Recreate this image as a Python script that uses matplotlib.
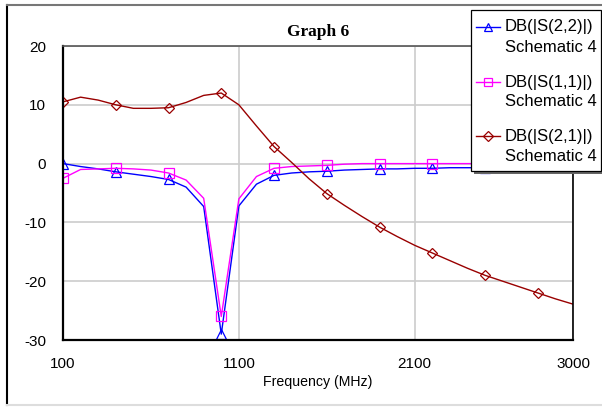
import matplotlib
matplotlib.use("Agg")
from matplotlib import pyplot as plt
from matplotlib.lines import Line2D
from matplotlib.patches import Rectangle

freq = [100, 200, 300, 400, 500, 600, 700, 800, 900, 1000,
        1100, 1200, 1300, 1400, 1500, 1600, 1700, 1800, 1900, 2000,
        2100, 2200, 2300, 2400, 2500, 2600, 2700, 2800, 2900, 3000]

s22 = [0.0, -0.5, -0.9, -1.4, -1.8, -2.2, -2.7, -4.0, -7.3, -29.0,
       -7.2, -3.5, -2.0, -1.6, -1.4, -1.3, -1.1, -1.0, -0.9, -0.9,
       -0.8, -0.8, -0.7, -0.7, -0.7, -0.6, -0.6, -0.6, -0.5, -0.5]

s11 = [-2.5, -1.0, -0.9, -0.8, -0.9, -1.1, -1.6, -2.8, -5.9, -26.0,
       -6.0, -2.2, -0.8, -0.5, -0.4, -0.3, -0.1, 0.0, 0.0, 0.0,
       0.0, 0.0, 0.0, 0.0, 0.0, 0.0, 0.0, 0.0, 0.0, 0.0]

s21 = [10.5, 11.3, 10.8, 10.0, 9.4, 9.4, 9.5, 10.4, 11.6, 12.0,
       10.0, 6.4, 2.9, 0.2, -2.6, -5.1, -7.1, -9.0, -10.8, -12.4,
       -13.9, -15.2, -16.5, -17.8, -19.0, -20.0, -21.0, -22.0, -23.0, -23.9]

names = ["DB(|S(2,2)|)", "DB(|S(1,1)|)", "DB(|S(2,1)|)"]
source = "Schematic 4"

xticks = [100, 1100, 2100, 3000]
yticks = [-30, -20, -10, 0, 10, 20]

plt.rcParams['font.family'] = ['Liberation Sans', 'DejaVu Sans']
plt.rcParams['axes.unicode_minus'] = False

W, H = 602, 407
fig = plt.figure(figsize=(W / 100, H / 100), dpi=100)
ax = fig.add_axes([63 / W, 1 - 340 / H, 510 / W, 294 / H])

styles = [dict(color='#0000ff', marker='^', ms=7.5),
          dict(color='#ff00ff', marker='s', ms=7.5),
          dict(color='#990000', marker='D', ms=5.5)]

for ys, st in zip([s22, s11, s21], styles):
    ax.plot(freq, ys, color=st['color'], lw=1.0, marker=st['marker'],
            markevery=3, ms=st['ms'], mfc='none', mec=st['color'], mew=0.9)

ax.set_xlim(100, 3000)
ax.set_ylim(-30, 20)
ax.set_xticks(xticks)
ax.set_yticks(yticks)
ax.tick_params(length=0, labelsize=11)
ax.tick_params(axis='x', pad=12)
ax.tick_params(axis='y', pad=12)
ax.grid(True, color='#cccccc', lw=1.2)
ax.set_axisbelow(True)

for side in ['left', 'bottom']:
    ax.spines[side].set_linewidth(1.6)
    ax.spines[side].set_color('black')
ax.spines['right'].set_linewidth(1.2)
ax.spines['top'].set_linewidth(1.2)
ax.spines['top'].set_color('#555555')

ax.set_title('Graph 6', fontsize=12.5, fontweight='bold',
             family='Liberation Serif', pad=7)
ax.set_xlabel('Frequency (MHz)', fontsize=10.2)
ax.xaxis.set_label_coords(0.5, -0.12)

# legend box drawn in pixel coordinates of the figure
def fx(px):
    return px / W

def fy(py):
    return 1 - py / H

fig.add_artist(Rectangle((fx(474), fy(174)), fx(130), fy(13) - fy(174),
                         transform=fig.transFigure, facecolor='#666666',
                         edgecolor='none', zorder=5))
fig.add_artist(Rectangle((fx(471), fy(171)), fx(130), fy(10) - fy(171),
                         transform=fig.transFigure, facecolor='white',
                         edgecolor='black', lw=0.9, zorder=6))

rows = [27, 82, 136]
for name, st, y in zip(names, styles, rows):
    fig.add_artist(Line2D([fx(476), fx(500)], [fy(y), fy(y)],
                          transform=fig.transFigure, color=st['color'],
                          lw=1.0, zorder=7))
    fig.add_artist(Line2D([fx(488)], [fy(y)], transform=fig.transFigure,
                          marker=st['marker'], ms=st['ms'] * 0.85, mfc='none',
                          mec=st['color'], mew=0.9, zorder=7))
    fig.text(fx(505), fy(y), name, fontsize=12, va='center', ha='left',
             zorder=8)
    fig.text(fx(505), fy(y + 20), source, fontsize=12, va='center',
             ha='left', zorder=8)

# outer frame of the picture
fig.add_artist(Line2D([fx(7), fx(7)], [fy(5), fy(405)],
                      transform=fig.transFigure, color='black', lw=1.5))
fig.add_artist(Line2D([fx(7), 1], [fy(5), fy(5)],
                      transform=fig.transFigure, color='#777777', lw=1.5))
fig.add_artist(Line2D([fx(7), 1], [fy(405), fy(405)],
                      transform=fig.transFigure, color='#dddddd', lw=1.5))

fig.savefig('out.png', dpi=100)
